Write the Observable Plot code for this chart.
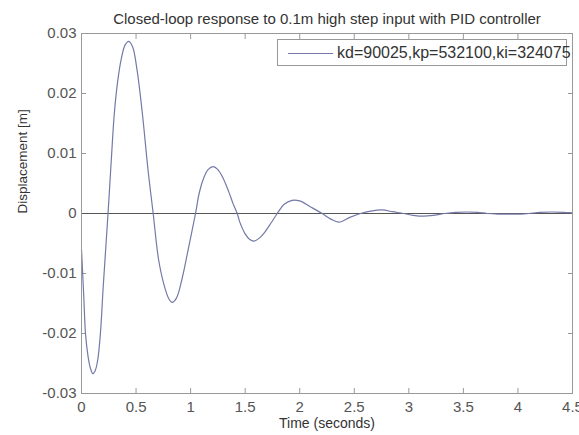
<!DOCTYPE html>
<html>
<head>
<meta charset="utf-8">
<script src="https://cdn.jsdelivr.net/npm/d3@7"></script>
<script src="https://cdn.jsdelivr.net/npm/@observablehq/plot@0.6"></script>
<style>
  html, body { margin: 0; padding: 0; background: #fff; }
  #wrap { position: relative; width: 579px; height: 435px; font-family: "Liberation Sans", Arial, sans-serif; }
  #legend { position: absolute; left: 277px; top: 39px; width: 290px; height: 27px; border: 1px solid #999; background: #fff; box-sizing: border-box; }
  #legend svg { position: absolute; left: 0; top: 0; }
  #legend span { position: absolute; left: 59px; top: 3px; font-size: 16px; line-height: 19px; color: #333; white-space: nowrap; }
</style>
</head>
<body>
<div id="wrap"></div>
<script>
const title = "Closed-loop response to 0.1m high step input with PID controller";
const xLabel = "Time (seconds)";
const yLabel = "Displacement [m]";
const legendLabel = "kd=90025,kp=532100,ki=324075";

const xTicks = [0, 0.5, 1, 1.5, 2, 2.5, 3, 3.5, 4, 4.5];
const yTicks = [-0.03, -0.02, -0.01, 0, 0.01, 0.02, 0.03];

const time = [0, 0.021, 0.037, 0.06, 0.082, 0.104, 0.125, 0.148, 0.174, 0.199, 0.225, 0.25,
  0.275, 0.3, 0.33, 0.365, 0.4, 0.434, 0.47, 0.51, 0.56, 0.61, 0.657,
  0.705, 0.755, 0.8, 0.831, 0.87, 0.92, 0.98, 1.045,
  1.08, 1.12, 1.16, 1.207, 1.25, 1.3, 1.35, 1.39, 1.427,
  1.45, 1.5, 1.54, 1.58, 1.63, 1.68, 1.74, 1.794,
  1.855, 1.93, 2.0, 2.1, 2.206,
  2.282, 2.358, 2.465, 2.557,
  2.65, 2.756, 2.85, 2.951,
  3.04, 3.135, 3.23, 3.33,
  3.43, 3.53, 3.63, 3.72,
  3.82, 3.92, 4.02, 4.1,
  4.2, 4.31, 4.42, 4.5];
const displacement = [-0.006, -0.0139, -0.0201, -0.0238, -0.0258, -0.0267, -0.0262, -0.0245, -0.0198, -0.0122, -0.005, 0.002,
  0.0095, 0.0165, 0.0218, 0.0258, 0.0281, 0.0287, 0.0277, 0.0238, 0.0163, 0.0072, 0,
  -0.0075, -0.0118, -0.0142, -0.0148, -0.0141, -0.011, -0.0058, 0,
  0.0035, 0.0059, 0.0073, 0.0078, 0.0073, 0.0058, 0.0036, 0.0016, 0,
  -0.0014, -0.0034, -0.0043, -0.0046, -0.0041, -0.0031, -0.0015, 0,
  0.0015, 0.0022, 0.0021, 0.0011, 0,
  -0.0009, -0.00145, -0.0006, 0,
  0.0004, 0.0006, 0.0003, 0,
  -0.0003, -0.00045, -0.0003, 0,
  0.0002, 0.00025, 0.0002, 0,
  -0.0001, -0.0001, -0.0001, 0,
  0.0002, 0.00025, 0.0002, 0.0001];

const data = time.map((t, i) => ({t, v: displacement[i]}));
const fmt = d => String(d);
const blank = () => "";
const tickColor = "#999";
const labelColor = "#555";

const chart = Plot.plot({
  width: 579,
  height: 435,
  marginLeft: 81,
  marginRight: 7,
  marginTop: 33,
  marginBottom: 42,
  style: {fontFamily: '"Liberation Sans", Arial, sans-serif', fontSize: "14px", background: "#fff", overflow: "visible"},
  x: {domain: [0, 4.5]},
  y: {domain: [-0.03, 0.03]},
  marks: [
    Plot.axisX(xTicks, {anchor: "bottom", tickSize: 0, tickPadding: 8, tickFormat: fmt, color: labelColor, label: null, fontSize: 15}),
    Plot.axisX(xTicks, {anchor: "bottom", tickSize: -5, tickFormat: blank, color: tickColor, label: null}),
    Plot.axisX(xTicks, {anchor: "top", tickSize: -5, tickFormat: blank, color: tickColor, label: null}),
    Plot.axisY(yTicks, {anchor: "left", tickSize: 0, tickPadding: 5, tickFormat: fmt, color: labelColor, label: null, fontSize: 15}),
    Plot.axisY(yTicks, {anchor: "left", tickSize: -5, tickFormat: blank, color: tickColor, label: null}),
    Plot.axisY(yTicks, {anchor: "right", tickSize: -5, tickFormat: blank, color: tickColor, label: null}),
    Plot.ruleY([0], {stroke: "#555", strokeWidth: 1}),
    Plot.line(data, {x: "t", y: "v", stroke: "#7479a8", strokeWidth: 1.2, curve: "catmull-rom"}),
    Plot.frame({stroke: tickColor}),
    Plot.text([title], {frameAnchor: "top", dy: -20, fontSize: 15, fill: "#333"}),
    Plot.text([xLabel], {frameAnchor: "bottom", dy: 34, fontSize: 14, fill: "#333"}),
    Plot.text([yLabel], {frameAnchor: "left", dx: -59, rotate: -90, fontSize: 13.5, fill: "#333"})
  ]
});

const wrap = document.getElementById("wrap");
wrap.appendChild(chart);
const legend = document.createElement("div");
legend.id = "legend";
legend.innerHTML = '<svg width="60" height="25"><line x1="10" x2="55" y1="13.5" y2="13.5" stroke="#7479a8" stroke-width="1.2"/></svg><span></span>';
legend.querySelector("span").textContent = legendLabel;
wrap.appendChild(legend);
</script>
</body>
</html>
